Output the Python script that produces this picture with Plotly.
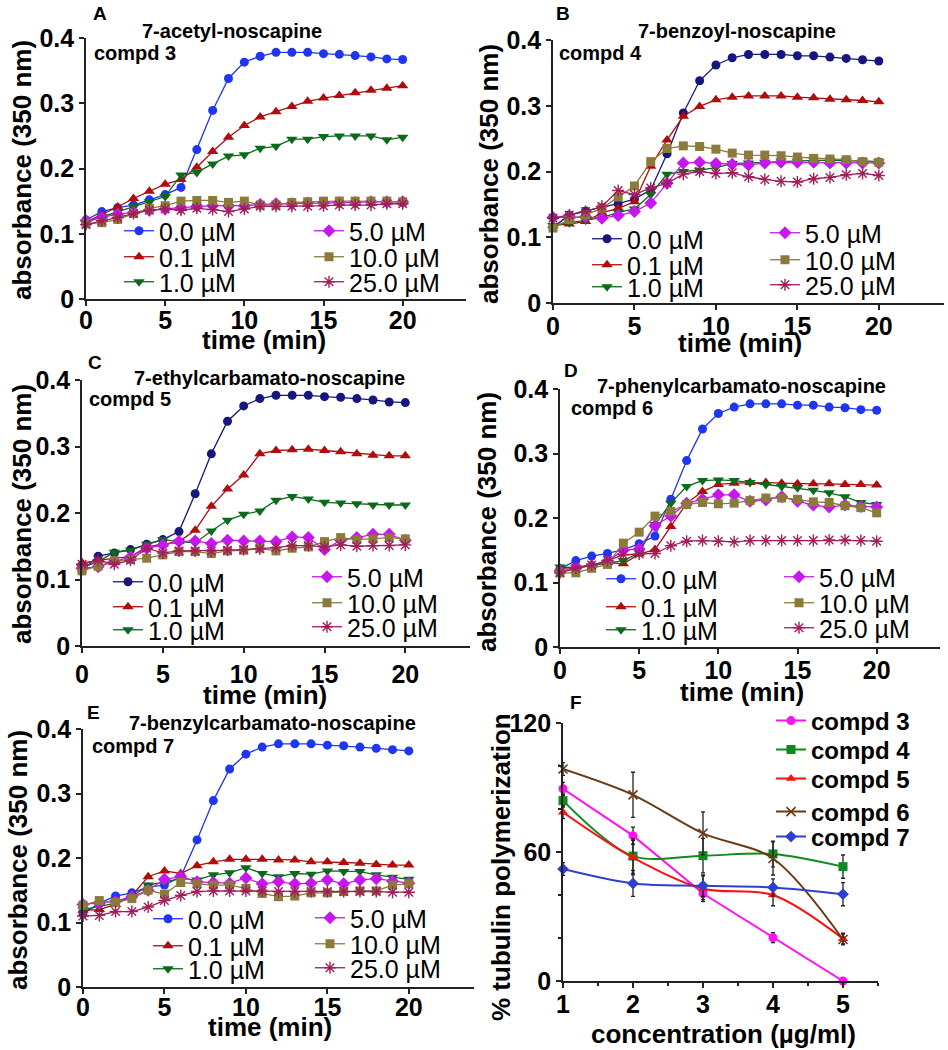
import plotly.graph_objects as go

W, H = 948, 1050
FONT = "Arial, Liberation Sans, sans-serif"

time_min = list(range(21))
conc_labels = ["0.0 µM", "0.1 µM", "1.0 µM", "5.0 µM", "10.0 µM", "25.0 µM"]

# ---------------- Panel A : compd 3 ----------------
A_c0 = [0.121, 0.134, 0.140, 0.144, 0.152, 0.160, 0.171, 0.229, 0.289, 0.338, 0.363,
        0.372, 0.378, 0.378, 0.378, 0.376, 0.375, 0.373, 0.371, 0.368, 0.367]
A_c01 = [0.118, 0.129, 0.141, 0.154, 0.165, 0.176, 0.183, 0.202, 0.226, 0.248, 0.266,
         0.279, 0.287, 0.295, 0.303, 0.308, 0.312, 0.316, 0.320, 0.323, 0.327]
A_c1 = [0.118, 0.126, 0.134, 0.142, 0.149, 0.157, 0.190, 0.194, 0.207, 0.219, 0.221,
        0.231, 0.234, 0.245, 0.245, 0.249, 0.250, 0.250, 0.250, 0.244, 0.248]
A_c5 = [0.120, 0.125, 0.130, 0.133, 0.136, 0.138, 0.140, 0.142, 0.143, 0.143, 0.143,
        0.145, 0.146, 0.146, 0.147, 0.147, 0.148, 0.148, 0.149, 0.149, 0.149]
A_c10 = [0.115, 0.117, 0.122, 0.131, 0.139, 0.143, 0.150, 0.151, 0.151, 0.148, 0.150,
         0.144, 0.144, 0.148, 0.149, 0.150, 0.150, 0.150, 0.150, 0.150, 0.149]
A_c25 = [0.114, 0.120, 0.125, 0.131, 0.136, 0.138, 0.136, 0.139, 0.137, 0.134, 0.138,
         0.142, 0.142, 0.142, 0.142, 0.143, 0.144, 0.144, 0.144, 0.146, 0.146]

# ---------------- Panel B : compd 4 ----------------
B_c0 = [0.115, 0.134, 0.140, 0.145, 0.151, 0.158, 0.172, 0.227, 0.289, 0.338, 0.362,
        0.373, 0.378, 0.378, 0.378, 0.376, 0.376, 0.374, 0.372, 0.370, 0.368]
B_c01 = [0.118, 0.120, 0.124, 0.137, 0.144, 0.154, 0.208, 0.248, 0.284, 0.299, 0.309,
         0.313, 0.315, 0.315, 0.315, 0.313, 0.312, 0.310, 0.309, 0.308, 0.306]
B_c1 = [0.118, 0.122, 0.126, 0.130, 0.138, 0.143, 0.165, 0.196, 0.200, 0.202, 0.206,
        0.212, 0.213, 0.214, 0.216, 0.216, 0.217, 0.217, 0.217, 0.216, 0.215]
B_c5 = [0.130, 0.131, 0.131, 0.129, 0.133, 0.139, 0.152, 0.182, 0.213, 0.214, 0.212,
        0.211, 0.210, 0.213, 0.214, 0.214, 0.214, 0.213, 0.213, 0.213, 0.213]
B_c10 = [0.114, 0.127, 0.134, 0.144, 0.161, 0.178, 0.215, 0.235, 0.239, 0.238, 0.234,
         0.228, 0.225, 0.225, 0.224, 0.222, 0.220, 0.219, 0.218, 0.215, 0.214]
B_c25 = [0.129, 0.134, 0.139, 0.147, 0.171, 0.165, 0.175, 0.182, 0.196, 0.200, 0.197,
         0.198, 0.192, 0.188, 0.185, 0.184, 0.189, 0.191, 0.195, 0.197, 0.194]

# ---------------- Panel C : compd 5 ----------------
C_c0 = [0.113, 0.135, 0.140, 0.145, 0.153, 0.160, 0.172, 0.229, 0.289, 0.338, 0.361,
        0.372, 0.377, 0.377, 0.377, 0.375, 0.374, 0.372, 0.370, 0.367, 0.366]
C_c01 = [0.125, 0.129, 0.132, 0.134, 0.149, 0.153, 0.157, 0.174, 0.210, 0.236, 0.257,
         0.289, 0.294, 0.295, 0.296, 0.294, 0.292, 0.289, 0.287, 0.286, 0.286]
C_c1 = [0.118, 0.127, 0.141, 0.144, 0.153, 0.160, 0.157, 0.155, 0.173, 0.189, 0.198,
        0.203, 0.219, 0.225, 0.221, 0.216, 0.215, 0.214, 0.212, 0.212, 0.212]
C_c5 = [0.117, 0.119, 0.127, 0.134, 0.147, 0.152, 0.157, 0.158, 0.154, 0.159, 0.158,
        0.158, 0.157, 0.164, 0.163, 0.145, 0.159, 0.163, 0.168, 0.168, 0.159]
C_c10 = [0.113, 0.120, 0.128, 0.130, 0.132, 0.137, 0.142, 0.142, 0.139, 0.143, 0.144,
         0.147, 0.143, 0.147, 0.149, 0.157, 0.163, 0.160, 0.161, 0.163, 0.161]
C_c25 = [0.123, 0.129, 0.123, 0.129, 0.147, 0.140, 0.143, 0.143, 0.143, 0.144, 0.145,
         0.146, 0.148, 0.151, 0.151, 0.149, 0.152, 0.150, 0.151, 0.151, 0.152]

# ---------------- Panel D : compd 6 ----------------
D_c0 = [0.121, 0.134, 0.141, 0.145, 0.151, 0.160, 0.172, 0.229, 0.289, 0.338, 0.362,
        0.372, 0.377, 0.377, 0.377, 0.375, 0.375, 0.372, 0.371, 0.368, 0.367]
D_c01 = [0.122, 0.123, 0.128, 0.131, 0.129, 0.144, 0.151, 0.187, 0.223, 0.241, 0.252,
         0.254, 0.255, 0.255, 0.254, 0.253, 0.253, 0.253, 0.252, 0.252, 0.251]
D_c1 = [0.124, 0.123, 0.126, 0.130, 0.134, 0.146, 0.190, 0.223, 0.249, 0.258, 0.259,
        0.258, 0.255, 0.252, 0.249, 0.247, 0.243, 0.239, 0.233, 0.224, 0.221]
D_c5 = [0.118, 0.122, 0.126, 0.133, 0.150, 0.152, 0.188, 0.203, 0.223, 0.229, 0.236,
        0.236, 0.226, 0.228, 0.233, 0.226, 0.220, 0.217, 0.220, 0.218, 0.217]
D_c10 = [0.115, 0.115, 0.122, 0.128, 0.161, 0.178, 0.203, 0.210, 0.221, 0.224, 0.222,
         0.223, 0.227, 0.231, 0.231, 0.229, 0.225, 0.224, 0.219, 0.216, 0.208]
D_c25 = [0.115, 0.122, 0.127, 0.134, 0.143, 0.144, 0.145, 0.157, 0.164, 0.165, 0.164,
         0.163, 0.165, 0.165, 0.165, 0.165, 0.165, 0.166, 0.166, 0.165, 0.164]

# ---------------- Panel E : compd 7 ----------------
E_c0 = [0.113, 0.130, 0.141, 0.146, 0.155, 0.158, 0.171, 0.228, 0.289, 0.338, 0.361,
        0.372, 0.377, 0.377, 0.377, 0.375, 0.374, 0.372, 0.370, 0.368, 0.366]
E_c01 = [0.119, 0.120, 0.128, 0.142, 0.171, 0.180, 0.176, 0.188, 0.194, 0.198, 0.198,
         0.198, 0.197, 0.197, 0.194, 0.194, 0.193, 0.192, 0.190, 0.189, 0.189]
E_c1 = [0.120, 0.125, 0.130, 0.140, 0.158, 0.163, 0.168, 0.166, 0.174, 0.177, 0.185,
        0.176, 0.171, 0.176, 0.175, 0.180, 0.179, 0.179, 0.174, 0.170, 0.167]
E_c5 = [0.128, 0.130, 0.133, 0.140, 0.150, 0.167, 0.171, 0.163, 0.162, 0.161, 0.169,
        0.160, 0.163, 0.160, 0.161, 0.166, 0.160, 0.166, 0.168, 0.164, 0.161]
E_c10 = [0.127, 0.134, 0.131, 0.137, 0.150, 0.144, 0.162, 0.160, 0.158, 0.158, 0.153,
         0.145, 0.140, 0.141, 0.146, 0.146, 0.148, 0.149, 0.149, 0.158, 0.160]
E_c25 = [0.110, 0.111, 0.117, 0.117, 0.124, 0.134, 0.142, 0.148, 0.149, 0.149, 0.149,
         0.149, 0.148, 0.148, 0.148, 0.148, 0.148, 0.148, 0.148, 0.147, 0.147]

# ---------------- Panel F ----------------
conc_ug = [1, 2, 3, 4, 5]
F_compd3 = [89.4, 67.6, 40.7, 20.2, 0.0]
F_compd4 = [83.9, 58.1, 58.3, 59.1, 53.2]
F_compd5 = [78.5, 57.4, 42.9, 40.0, 19.7]
F_compd6 = [98.6, 86.6, 68.7, 57.0, 19.3]
F_compd7 = [52.1, 45.4, 44.3, 43.5, 40.4]
F_err3 = [3.0, 4.0, 3.0, 2.3, 0.5]
F_err4 = [3.0, 8.0, 8.0, 6.0, 5.4]
F_err5 = [3.0, 8.0, 6.0, 5.0, 2.5]
F_err6 = [3.0, 10.5, 10.0, 7.7, 2.5]
F_err7 = [3.0, 6.0, 5.0, 4.0, 5.4]
F_labels = ["compd 3", "compd 4", "compd 5", "compd 6", "compd 7"]

# ---------------- styling ----------------
BLUE = "#1f35f2"
NAVY = "#16167e"
RED = "#b00c0c"
GREEN = "#0b6a1a"
PURPLE = "#c617ee"
OLIVE = "#8b7a3b"
MAROON = "#a11d5b"

series_style = [
    dict(symbol="circle", size=9),
    dict(symbol="triangle-up", size=10),
    dict(symbol="triangle-down", size=10),
    dict(symbol="diamond", size=10),
    dict(symbol="square", size=9),
    dict(symbol="asterisk-open", size=10),
]


def px_x(p):
    return p / W


def px_y(p):
    return 1 - p / H


panels = [
    dict(key="A", data=[A_c0, A_c01, A_c1, A_c5, A_c10, A_c25], c0=BLUE,
         dom_x=(86, 466), dom_y=(38, 299), xstand=-7,
         leg1=(124, [231, 257, 282]), leg2=(314, [231, 257, 282]),
         letter=(100, 14), title="7-acetyl-noscapine", title_pos=(232, 31),
         compd="compd 3", compd_pos=(92, 53), ytitle_pos=(22, 170), xtitle_pos=(264, 340)),
    dict(key="B", data=[B_c0, B_c01, B_c1, B_c5, B_c10, B_c25], c0=NAVY,
         dom_x=(553, 944), dom_y=(40, 303), xstand=-5,
         leg1=(592, [239, 265, 287]), leg2=(770, [233, 260, 285]),
         letter=(563, 14), title="7-benzoyl-noscapine", title_pos=(737, 31),
         compd="compd 4", compd_pos=(557, 53), ytitle_pos=(489, 174), xtitle_pos=(740, 343)),
    dict(key="C", data=[C_c0, C_c01, C_c1, C_c5, C_c10, C_c25], c0=NAVY,
         dom_x=(82, 470), dom_y=(380, 646), xstand=0,
         leg1=(113, [582, 607, 630]), leg2=(312, [577, 603, 627]),
         letter=(95, 362), title="7-ethylcarbamato-noscapine", title_pos=(269, 378),
         compd="compd 5", compd_pos=(87, 399), ytitle_pos=(22, 514), xtitle_pos=(265, 695)),
    dict(key="D", data=[D_c0, D_c01, D_c1, D_c5, D_c10, D_c25], c0=BLUE,
         dom_x=(560, 940), dom_y=(389, 647), xstand=-5,
         leg1=(606, [579, 607, 630]), leg2=(784, [577, 603, 628]),
         letter=(571, 370), title="7-phenylcarbamato-noscapine", title_pos=(741, 386),
         compd="compd 6", compd_pos=(569, 408), ytitle_pos=(487, 522), xtitle_pos=(742, 692)),
    dict(key="E", data=[E_c0, E_c01, E_c1, E_c5, E_c10, E_c25], c0=BLUE,
         dom_x=(83, 474), dom_y=(729, 987), xstand=-8,
         leg1=(153, [919, 946, 969]), leg2=(315, [918, 944, 968]),
         letter=(93, 712), title="7-benzylcarbamato-noscapine", title_pos=(272, 723),
         compd="compd 7", compd_pos=(90, 746), ytitle_pos=(18, 860), xtitle_pos=(270, 1027)),
]

fig = go.Figure()
layout = dict(
    width=W, height=H,
    margin=dict(l=0, r=0, t=0, b=0, autoexpand=False),
    paper_bgcolor="white", plot_bgcolor="white",
    font=dict(family=FONT, color="black"),
    showlegend=True,
    annotations=[],
)

axis_common = dict(showline=True, linecolor="#222", linewidth=1.6, ticks="outside",
                   ticklen=5, tickwidth=1.5, tickcolor="#222", showgrid=False,
                   zeroline=False,
                   tickfont=dict(family=FONT, size=25, color="black", weight="bold"))

legend_count = [0]


def new_legend(x_line, y_row, size, weight="normal"):
    legend_count[0] += 1
    n = legend_count[0]
    name = "legend" if n == 1 else f"legend{n}"
    layout[name] = dict(x=px_x(x_line - 5), y=px_y(y_row), xanchor="left",
                        yanchor="middle", bgcolor="rgba(0,0,0,0)", borderwidth=0,
                        itemwidth=30, tracegroupgap=0, visible=True,
                        font=dict(family=FONT, size=size, color="black", weight=weight))
    return name


def annot(text, x, y, size, weight="bold", xanchor="center", angle=0):
    layout["annotations"].append(dict(
        text=text, x=px_x(x), y=px_y(y), xref="paper", yref="paper",
        xanchor=xanchor, yanchor="middle", showarrow=False, textangle=angle,
        font=dict(family=FONT, size=size, color="black", weight=weight)))


for i, p in enumerate(panels):
    n = i + 1
    xa = "xaxis" if n == 1 else f"xaxis{n}"
    ya = "yaxis" if n == 1 else f"yaxis{n}"
    xr = "x" if n == 1 else f"x{n}"
    yr = "y" if n == 1 else f"y{n}"
    layout[xa] = dict(axis_common, domain=[px_x(p["dom_x"][0]), px_x(p["dom_x"][1])],
                      range=[0, 24], tickvals=[0, 5, 10, 15, 20], anchor=yr,
                      ticklabelstandoff=p["xstand"])
    layout[ya] = dict(axis_common, domain=[px_y(p["dom_y"][1]), px_y(p["dom_y"][0])],
                      range=[0, 0.4], tickvals=[0, 0.1, 0.2, 0.3, 0.4], anchor=xr)
    colors = [p["c0"], RED, GREEN, PURPLE, OLIVE, MAROON]
    for j, (vals, lab) in enumerate(zip(p["data"], conc_labels)):
        if j < 3:
            lx, ly = p["leg1"][0], p["leg1"][1][j]
        else:
            lx, ly = p["leg2"][0], p["leg2"][1][j - 3]
        lg = new_legend(lx, ly, 25)
        st = series_style[j]
        fig.add_trace(go.Scatter(
            x=time_min, y=vals, name=lab, mode="lines+markers", xaxis=xr, yaxis=yr,
            line=dict(color=colors[j], width=1.3), cliponaxis=False, legend=lg,
            showlegend=True,
            marker=dict(symbol=st["symbol"], size=st["size"], color=colors[j],
                        line=dict(color=colors[j], width=1.4 if "open" in st["symbol"] else 0)),
        ))
    annot(p["key"], p["letter"][0], p["letter"][1], 19)
    annot(p["title"], p["title_pos"][0], p["title_pos"][1], 20)
    annot(p["compd"], p["compd_pos"][0], p["compd_pos"][1], 20, xanchor="left")
    annot("absorbance (350 nm)", p["ytitle_pos"][0], p["ytitle_pos"][1], 26, angle=-90)
    annot("time (min)", p["xtitle_pos"][0], p["xtitle_pos"][1], 26)

# ---------------- Panel F ----------------
layout["xaxis6"] = dict(axis_common, domain=[px_x(563), px_x(878)], range=[1, 5.5],
                        tickvals=[1, 2, 3, 4, 5], anchor="y6", ticklabelstandoff=-5,
                        minor=dict(dtick=0.5, ticks="outside", ticklen=3, tickcolor="#222"))
layout["yaxis6"] = dict(axis_common, domain=[px_y(981), px_y(723)], range=[0, 120],
                        tickvals=[0, 60, 120], anchor="x6",
                        minor=dict(dtick=20, ticks="outside", ticklen=3, tickcolor="#222"))

F_series = [F_compd3, F_compd4, F_compd5, F_compd6, F_compd7]
F_errs = [F_err3, F_err4, F_err5, F_err6, F_err7]
F_colors = ["#ff10f0", "#0f8a1e", "#ff1010", "#6b3a12", "#2f3fd0"]
F_symbols = ["circle", "square", "triangle-up", "x-thin-open", "diamond"]
F_shapes = ["linear", "spline", "spline", "spline", "spline"]
F_leg_rows = [721, 750, 779, 812, 837]
for k in range(5):
    lg = new_legend(776, F_leg_rows[k], 24, weight="bold")
    sym = F_symbols[k]
    fig.add_trace(go.Scatter(
        x=conc_ug, y=F_series[k], name=F_labels[k], mode="lines+markers",
        xaxis="x6", yaxis="y6", cliponaxis=False, legend=lg, showlegend=True,
        line=dict(color=F_colors[k], width=2, shape=F_shapes[k], smoothing=0.9),
        marker=dict(symbol=sym, size=9, color=F_colors[k],
                    line=dict(color=F_colors[k], width=1.6 if "open" in sym else 0)),
        error_y=dict(type="data", array=F_errs[k], color="#222", thickness=1.3, width=2),
    ))

annot("F", 576, 702, 19)
annot("% tubulin polymerization", 501, 867, 26, angle=-90)
annot("concentration (µg/ml)", 723, 1034, 26)

fig.update_layout(**layout)
fig.write_html("out.html", config={"displayModeBar": False},
               post_script="document.body.style.margin='0px';")
